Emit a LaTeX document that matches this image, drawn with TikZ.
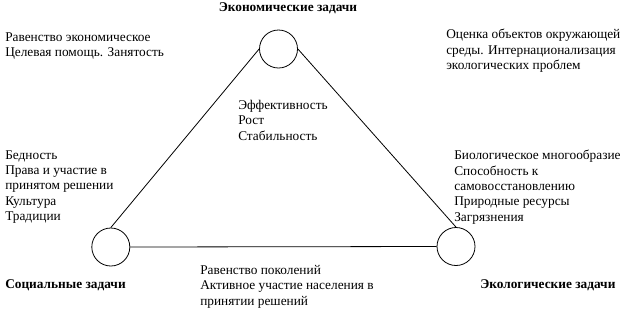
\documentclass[tikz,border=0pt]{standalone}
\usepackage{fontspec}
\setmainfont{Liberation Serif}
\usepackage{tikz}
\usetikzlibrary{positioning}

\begin{document}
\begin{tikzpicture}[x=0.75pt, y=-0.75pt,
  every node/.style={font=\fontsize{10}{11.5}\selectfont},
  goal/.style={draw, circle, minimum size=28.5pt, inner sep=0pt, line width=0.6pt},
  block/.style={anchor=north west, align=left, inner sep=0pt},
  title/.style={font=\fontsize{10}{11.5}\selectfont\bfseries, inner sep=0pt}]
  \useasboundingbox (0,0) rectangle (623,315);
  % circles
  \node[goal] (econ) at (278.5,49) {};
  \node[goal] (soc) at (110.8,247) {};
  \node[goal] (ecol) at (456,246.5) {};
  % triangle
  \draw[line width=0.6pt] (econ.west) -- (soc.north);
  \draw[line width=0.6pt] (econ.east) -- (ecol.north);
  \draw[line width=0.6pt] (soc.east) -- (ecol.west);
  % titles
  \node[title] (econT) at (288,8) {Экономические задачи};
  \node[title, anchor=west] (socT) at (5,285.7) {Социальные задачи};
  \node[title, anchor=west] (ecolT) at (480,285.7) {Экологические задачи};
  % text blocks
  \node[block] (tl) at (5,32) {Равенство экономическое\\Целевая помощь. Занятость};
  \node[block] (tr) at (446,29) {Оценка объектов окружающей\\среды. Интернационализация\\экологических проблем};
  \node[block] (mid) at (238,100) {Эффективность\\Рост\\Стабильность};
  \node[block] (left) at (5,150) {Бедность\\Права и участие в\\принятом решении\\Культура\\Традиции};
  \node[block] (right) at (454,150) {Биологическое многообразие\\Способность к\\самовосстановлению\\Природные ресурсы\\Загрязнения};
  \node[block] (bot) at (200,265) {Равенство поколений\\Активное участие населения в\\принятии решений};
\end{tikzpicture}
\end{document}
